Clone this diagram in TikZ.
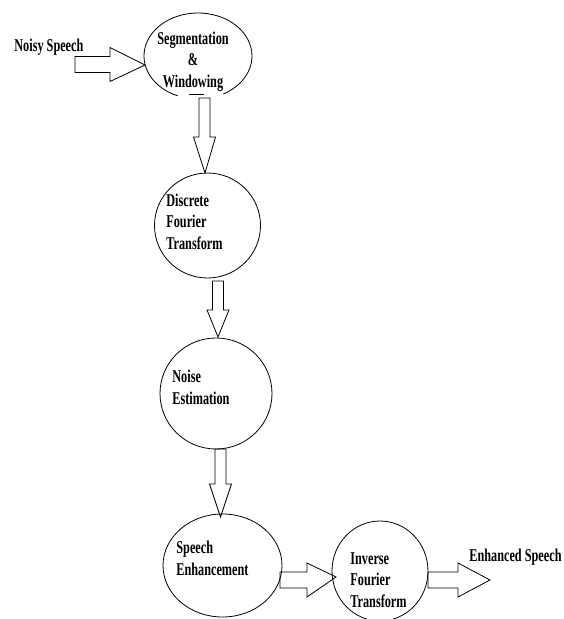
\documentclass[tikz,border=0pt]{standalone}
\usepackage{fontspec}
\newfontfamily\labfont{Liberation Serif}[FakeStretch=0.68]
\usetikzlibrary{shapes.geometric,calc}
\newcommand{\vblock}[3]{\draw[barrow] let \p1=(#1),\p2=(#2) in (\x1-5.5pt,\y1) -- (\x1+5.5pt,\y1) -- (\x1+5.5pt,\y2+#3) -- (\x1+11pt,\y2+#3) -- (\x2,\y2) -- (\x1-11pt,\y2+#3) -- (\x1-5.5pt,\y2+#3) -- cycle;}
\newcommand{\hblock}[3]{\draw[barrow] let \p1=(#1),\p2=(#2) in (\x1,\y1+8pt) -- (\x2-#3,\y1+8pt) -- (\x2-#3,\y1+17pt) -- (\x2,\y2) -- (\x2-#3,\y1-17pt) -- (\x2-#3,\y1-8pt) -- (\x1,\y1-8pt) -- cycle;}
\begin{document}
\begin{tikzpicture}[x=1pt,y=-1pt,line width=0.8pt,
  blk/.style={ellipse, draw, inner sep=0},
  lab/.style={font=\labfont\bfseries\fontsize{18}{21.5}\selectfont, inner sep=0, align=left},
  barrow/.style={draw, line width=0.8pt, line join=miter}]
\useasboundingbox (0,0) rectangle (563,619);
\begin{scope}
\clip (0,0) rectangle (563,619);
% blocks
\node[ellipse, inner sep=0, minimum width=108, minimum height=86] (seg) at (198,56) {};
\draw (seg.center) ++(112:54 and 43) arc[start angle=112, end angle=422, x radius=54, y radius=43];
\draw (189,94) -- (204,94);
\node[blk, minimum width=106, minimum height=105] (dft) at (207.5,225.5) {};
\node[blk, minimum width=112, minimum height=111] (noise) at (216,393.5) {};
\node[blk, minimum width=119, minimum height=103] (enh) at (222.5,565.5) {};
\node[blk, minimum width=96, minimum height=100] (ifft) at (380,571) {};
% labels (base anchor = last line)
\node[lab, anchor=base west] (tin) at (14,51) {Noisy Speech};
\node[lab, align=center, anchor=base] (tseg) at (193,87) {Segmentation\\\&\\Windowing};
\node[lab, anchor=base west] (tdft) at (166,249) {Discrete\\Fourier\\Transform};
\node[lab, anchor=base west] (tnoise) at (172,404) {Noise\\Estimation};
\node[lab, anchor=base west] (tenh) at (176,575) {Speech\\Enhancement};
\node[lab, anchor=base west] (tifft) at (350,607) {Inverse\\Fourier\\Transform};
\node[lab, anchor=base west] (tout) at (469,561) {Enhanced Speech};
% arrow ends
\coordinate (a0s) at (75,64.5);   \coordinate (a0t) at (145,65);
\coordinate (a1s) at (204.5,98);  \coordinate (a1t) at (205,173);
\coordinate (a2s) at (218,281);   \coordinate (a2t) at (218,337);
\coordinate (a3s) at (220.5,449); \coordinate (a3t) at (220.5,517);
\coordinate (a4s) at (280,580);   \coordinate (a4t) at (336,577);
\coordinate (a5s) at (428,580);   \coordinate (a5t) at (490,580);
\hblock{a0s}{a0t}{35pt}
\vblock{a1s}{a1t}{36pt}
\vblock{a2s}{a2t}{27pt}
\vblock{a3s}{a3t}{33pt}
\hblock{a4s}{a4t}{29pt}
\hblock{a5s}{a5t}{32pt}
\end{scope}
\end{tikzpicture}
\end{document}
